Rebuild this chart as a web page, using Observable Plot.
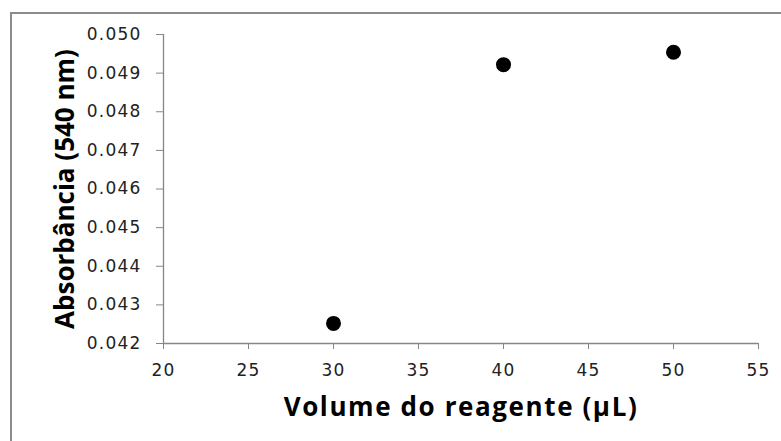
<!DOCTYPE html>
<html>
<head>
<meta charset="utf-8">
<script src="https://cdn.jsdelivr.net/npm/d3@7"></script>
<script src="https://cdn.jsdelivr.net/npm/@observablehq/plot@0.6"></script>
<style>
  html, body { margin: 0; padding: 0; background: #fff; overflow: hidden; width: 781px; height: 441px; }
  #frame { position: absolute; left: 10px; top: 12px; width: 900px; height: 600px;
           border-left: 2px solid #8c8c8c; border-top: 2px solid #8c8c8c; }
  #chart { position: absolute; left: 0; top: 0; }
</style>
</head>
<body>
<div id="frame"></div>
<div id="chart"></div>
<script>
const volumes = [30, 40, 50];
const absorbances = [0.04252, 0.04922, 0.04954];
const xTicks = [20, 25, 30, 35, 40, 45, 50, 55];
const yTicks = [0.042, 0.043, 0.044, 0.045, 0.046, 0.047, 0.048, 0.049, 0.050];
const xTitle = "Volume do reagente (µL)";
const yTitle = "Absorbância (540 nm)";

const data = volumes.map((v, i) => ({volume: v, abs: absorbances[i]}));
const axisColor = "#868686";

const chart = Plot.plot({
  width: 781,
  height: 441,
  marginLeft: 163,
  marginRight: 23,
  marginTop: 34,
  marginBottom: 98,
  style: {fontFamily: "DejaVu Sans", fontSize: "17px", background: "transparent", overflow: "visible"},
  x: {domain: [20, 55]},
  y: {domain: [0.042, 0.050]},
  marks: [
    Plot.axisX({ticks: xTicks, tickSize: 6, tickPadding: 14, stroke: axisColor, fill: "#222", label: null, fontSize: 17}),
    Plot.axisY({ticks: yTicks, tickSize: 7, tickPadding: 15, tickFormat: d3.format(".3f"), stroke: axisColor, fill: "#222", label: null, fontSize: 17}),
    Plot.ruleX([20], {stroke: axisColor, strokeWidth: 1.3}),
    Plot.ruleY([0.042], {stroke: axisColor, strokeWidth: 1.3}),
    Plot.dot(data, {x: "volume", y: "abs", r: 7.5, fill: "black", stroke: "none"}),
    Plot.text([xTitle], {frameAnchor: "bottom", textAnchor: "middle", dy: 64, lineAnchor: "middle", fontSize: 26, fontWeight: "bold", fontFamily: "Open Sans", fill: "black", text: d => d}),
    Plot.text([yTitle], {frameAnchor: "left", textAnchor: "middle", dx: -98, rotate: -90, lineAnchor: "middle", fontSize: 26, fontWeight: "bold", fontFamily: "Open Sans", fill: "black", text: d => d})
  ]
});
chart.querySelectorAll('g[aria-label="x-axis tick label"], g[aria-label="y-axis tick label"]').forEach(g => g.setAttribute("letter-spacing", "1.2"));
chart.querySelectorAll("text").forEach(t => {
  if (t.textContent === xTitle) t.setAttribute("letter-spacing", "1.6");
});
document.getElementById("chart").appendChild(chart);
</script>
</body>
</html>
